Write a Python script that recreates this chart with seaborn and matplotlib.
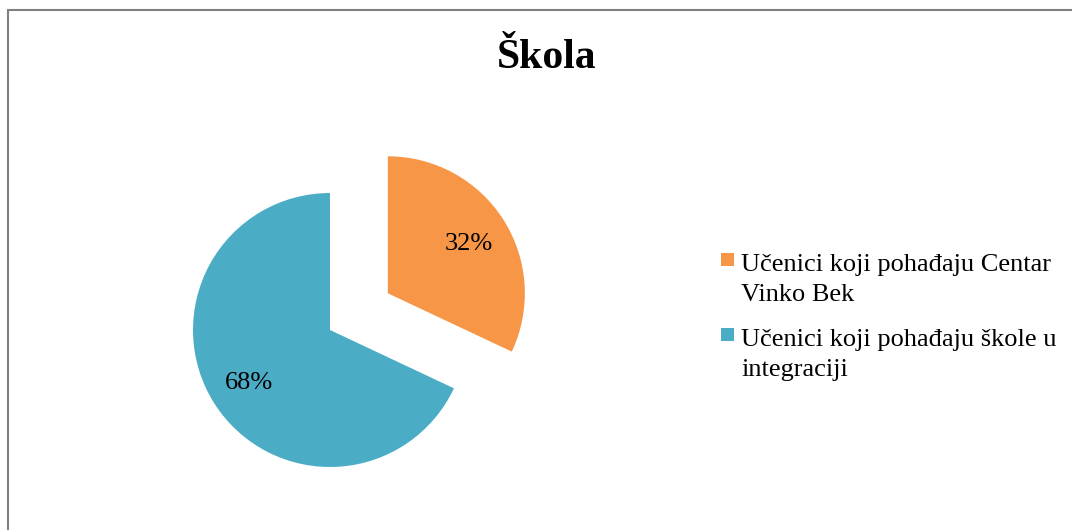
import seaborn as sns
import matplotlib.pyplot as plt
from matplotlib.lines import Line2D
from matplotlib.patches import Rectangle

sns.set_style("white")
plt.rcParams['font.family'] = ['Liberation Serif', 'DejaVu Serif']
plt.rcParams['text.color'] = 'black'

# podaci
naslov = "Škola"
kategorije = ["Učenici koji pohađaju Centar\nVinko Bek",
              "Učenici koji pohađaju škole u\nintegraciji"]
udjeli = [32, 68]
boje = sns.color_palette(["#F79646", "#4BACC6"])

W, H = 1072, 530
fig = plt.figure(figsize=(W / 100, H / 100), dpi=100)

# os postavljena tako da je središte pite na (330, 330) px, radijus 137 px
x0, y0, w, h = 180, 50, 380, 340
ax = fig.add_axes([x0 / W, y0 / H, w / W, h / H])
r_px = 137
cx, cy = 330, H - 330

wedges, texts, autotexts = ax.pie(
    udjeli, colors=boje, startangle=90, counterclock=False,
    explode=[0.5, 0], autopct="%1.0f%%", pctdistance=0.70,
    textprops={"fontsize": 19, "color": "black"},
    wedgeprops={"linewidth": 0})
for t in autotexts:
    x, y = t.get_position()
    t.set_position((x, y - 2 / r_px))
ax.set_xlim((x0 - cx) / r_px, (x0 + w - cx) / r_px)
ax.set_ylim((y0 - cy) / r_px, (y0 + h - cy) / r_px)
ax.set_aspect("auto")
ax.axis("off")

fig.text(547 / W, 1 - 58 / H, naslov, ha="center", va="center",
         fontsize=30, fontweight="bold")

# legenda
leg_y = [259, 334]
for lab, col, yy in zip(kategorije, boje, leg_y):
    fig.add_artist(Rectangle((721 / W, 1 - (yy + 6.5) / H), 13 / W, 13 / H,
                             transform=fig.transFigure, color=col, lw=0))
    fig.text(741 / W, 1 - (yy - 5) / H, lab, ha="left", va="top",
             fontsize=19, linespacing=1.45)

# okvir (samo gore i lijevo, ostatak je odrezan)
fig.add_artist(Line2D([7.5 / W, 1], [1 - 9.5 / H, 1 - 9.5 / H],
                      transform=fig.transFigure, color="#808080", lw=1.5))
fig.add_artist(Line2D([7.5 / W, 7.5 / W], [0, 1 - 9.5 / H],
                      transform=fig.transFigure, color="#808080", lw=1.5))

fig.savefig("out.png", dpi=100)
